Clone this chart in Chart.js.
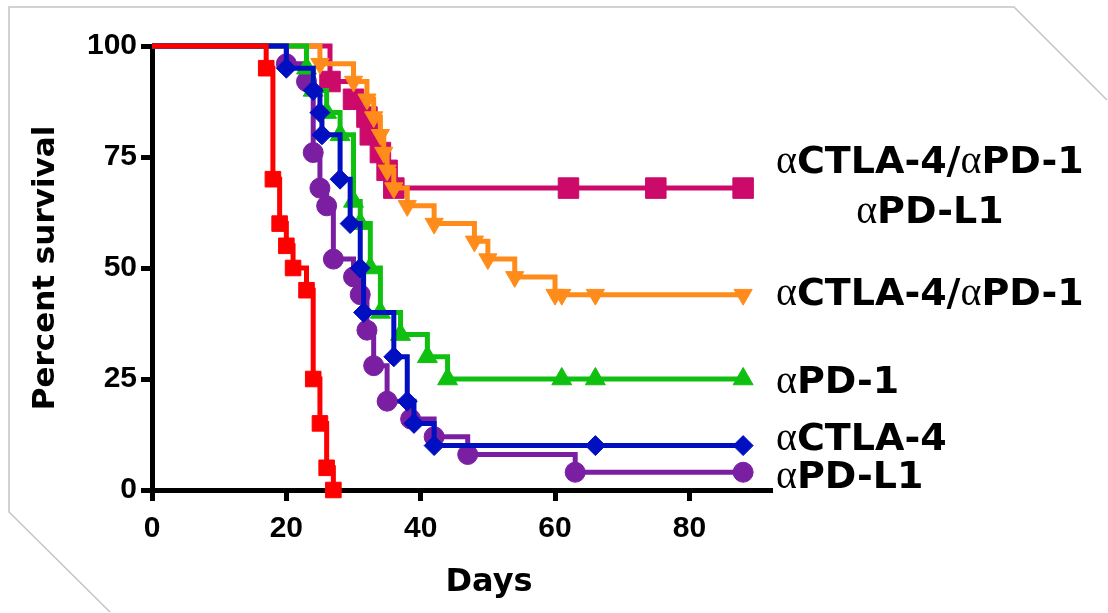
<!DOCTYPE html>
<html>
<head>
<meta charset="utf-8">
<title>Survival</title>
<script src="https://cdn.jsdelivr.net/npm/chart.js@4.4.1/dist/chart.umd.min.js"></script>
<style>
  html, body { margin: 0; padding: 0; background: #fff; }
  #wrap { width: 1108px; height: 613px; }
</style>
</head>
<body>
<div id="wrap"><canvas id="km" width="1108" height="613"></canvas></div>
<script>
// Kaplan-Meier curves: day of each event, percent surviving after it.
const CTRL_DAYS = [0, 17, 18, 19, 20, 21, 23, 24, 25, 26, 27];
const CTRL_SURV = [100, 95, 70, 60, 55, 50, 45, 25, 15, 5, 0];

const CTLA4_DAYS = [0, 20, 24, 25, 25.3, 28, 29.5, 31, 31.5, 36, 38, 39, 42, 66, 88];
const CTLA4_SURV = [100, 95, 90, 85, 80, 70, 60, 50, 40, 30, 20, 15, 10, 10, 10];

const PD1_DAYS = [0, 23, 24, 26, 28, 30, 31, 32.5, 34, 37, 41, 44, 61, 66, 88];
const PD1_SURV = [100, 95, 90, 85, 80, 65, 60, 50, 40, 35, 30, 25, 25, 25, 25];

const PDL1_DAYS = [0, 20, 23, 24, 25, 26, 27, 30, 31, 32, 33, 35, 38.5, 42, 47, 63, 88];
const PDL1_SURV = [100, 96, 92, 76, 68, 64, 52, 48, 44, 36, 28, 20, 16, 12, 8, 4, 4];

const COMBO_DAYS = [0, 25, 30, 32, 33, 34, 34.5, 35, 36, 38, 42, 48, 50, 54, 60, 61, 66, 88];
const COMBO_SURV = [100, 96, 92, 88, 84, 80, 76, 72, 68, 64, 60, 56, 52, 48, 44, 44, 44, 44];

const TRIPLE_DAYS = [0, 26.5, 30, 32, 32.5, 34, 35, 36, 62, 75, 88];
const TRIPLE_SURV = [100, 92, 88, 84, 80, 76, 72, 68, 68, 68, 68];

const X_TICKS = [0, 20, 40, 60, 80];
const Y_TICKS = [0, 25, 50, 75, 100];

const LABELS = ['αCTLA-4/αPD-1', 'αPD-L1', 'αCTLA-4/αPD-1', 'αPD-1', 'αCTLA-4', 'αPD-L1'];

const SANS = '"DejaVu Sans", "Liberation Sans", Arial, sans-serif';
const ARIAL = '"Liberation Sans", Arial, sans-serif';
const NAME_FONT = 'bold 38px ' + SANS;
const ALPHA_FONT = '40px "Liberation Serif", "DejaVu Serif", serif';

function pts(days, surv) { return days.map((d, i) => ({ x: d, y: surv[i] })); }

function km(label, days, surv, color, style, radius, rotation) {
  return {
    label: label,
    data: pts(days, surv),
    stepped: 'before',
    borderColor: color,
    backgroundColor: color,
    borderWidth: 5,
    borderCapStyle: 'butt',
    borderJoinStyle: 'miter',
    fill: false,
    clip: false,
    pointStyle: style,
    pointRotation: rotation || 0,
    pointRadius: c => (c.dataIndex === 0 ? 0 : radius),
    pointHoverRadius: c => (c.dataIndex === 0 ? 0 : radius),
    pointBorderWidth: 1,
    pointBorderColor: color,
    pointBackgroundColor: color,
  };
}

// white sheet with the thin grey cut-corner frame
const sheet = {
  id: 'sheet',
  beforeDraw(chart) {
    const ctx = chart.ctx;
    ctx.save();
    ctx.fillStyle = '#fff';
    ctx.fillRect(0, 0, chart.width, chart.height);
    ctx.strokeStyle = '#c4c4c4';
    ctx.lineWidth = 1.5;
    ctx.beginPath();
    ctx.moveTo(110, 612);
    ctx.lineTo(9, 512);
    ctx.lineTo(9, 7);
    ctx.lineTo(1014, 7);
    ctx.lineTo(1107, 100);
    ctx.stroke();
    ctx.restore();
  }
};

// series names on the right (α set in a serif face) and the x-axis title
function nameWidth(ctx, text) {
  let w = 0;
  text.split('α').forEach((p, i) => {
    if (i > 0) { ctx.font = ALPHA_FONT; w += ctx.measureText('α').width; }
    if (p) { ctx.font = NAME_FONT; w += ctx.measureText(p).width; }
  });
  return w;
}

function drawName(ctx, text, x, y) {
  let cx = x;
  text.split('α').forEach((p, i) => {
    if (i > 0) {
      ctx.font = ALPHA_FONT;
      ctx.fillText('α', cx, y);
      cx += ctx.measureText('α').width;
    }
    if (p) {
      ctx.font = NAME_FONT;
      ctx.fillText(p, cx, y);
      cx += ctx.measureText(p).width;
    }
  });
}

const names = {
  id: 'names',
  afterDraw(chart) {
    const ctx = chart.ctx;
    ctx.save();
    ctx.fillStyle = '#000';
    ctx.textAlign = 'left';
    ctx.textBaseline = 'alphabetic';
    const x0 = 776;
    const w1 = nameWidth(ctx, LABELS[0]);
    const w2 = nameWidth(ctx, LABELS[1]);
    drawName(ctx, LABELS[0], x0, 173);
    drawName(ctx, LABELS[1], x0 + w1 / 2 - w2 / 2, 223);
    drawName(ctx, LABELS[2], x0, 305);
    drawName(ctx, LABELS[3], x0, 393);
    drawName(ctx, LABELS[4], x0, 450);
    drawName(ctx, LABELS[5], x0, 488);

    ctx.font = 'bold 32px ' + SANS;
    ctx.textAlign = 'center';
    ctx.fillText('Days', 489, 591);
    ctx.restore();
  }
};

const tickFont = { family: ARIAL, weight: 'bold', size: 30 };
const axisGrid = { drawOnChartArea: false, drawTicks: true, tickLength: 11, color: '#000', lineWidth: 5 };

new Chart(document.getElementById('km'), {
  type: 'line',
  data: {
    datasets: [
      km('Control', CTRL_DAYS, CTRL_SURV, '#ff0000', 'rect', 11),
      km('αCTLA-4', CTLA4_DAYS, CTLA4_SURV, '#0010c0', 'rectRot', 10),
      km('αPD-1', PD1_DAYS, PD1_SURV, '#10c010', 'triangle', 11.5),
      km('αPD-L1', PDL1_DAYS, PDL1_SURV, '#7a1fa2', 'circle', 10),
      km('αCTLA-4/αPD-1', COMBO_DAYS, COMBO_SURV, '#ff8c1a', 'triangle', 10.5, 180),
      km('αCTLA-4/αPD-1 αPD-L1', TRIPLE_DAYS, TRIPLE_SURV, '#cc0a6a', 'rect', 14.5),
    ],
  },
  options: {
    responsive: false,
    animation: false,
    events: [],
    layout: { padding: { top: 46, right: 338, bottom: 0, left: 0 } },
    plugins: { legend: { display: false }, tooltip: { enabled: false } },
    scales: {
      x: {
        type: 'linear', min: 0, max: 92,
        afterFit: s => { s.height = 123; },
        afterBuildTicks: s => { s.ticks = X_TICKS.map(v => ({ value: v })); },
        ticks: { color: '#000', font: tickFont, padding: 10, maxRotation: 0 },
        grid: axisGrid,
        border: { color: '#000', width: 5 },
      },
      y: {
        type: 'linear', min: 0, max: 100,
        afterFit: s => { s.width = 152; },
        afterBuildTicks: s => { s.ticks = Y_TICKS.map(v => ({ value: v })); },
        ticks: { color: '#000', font: tickFont, padding: 4 },
        grid: axisGrid,
        border: { color: '#000', width: 5 },
        title: {
          display: true, text: 'Percent survival', color: '#000',
          font: { family: SANS, weight: 'bold', size: 31 },
          padding: { top: 27, bottom: 0 },
        },
      },
    },
  },
  plugins: [sheet, names],
});
</script>
</body>
</html>
